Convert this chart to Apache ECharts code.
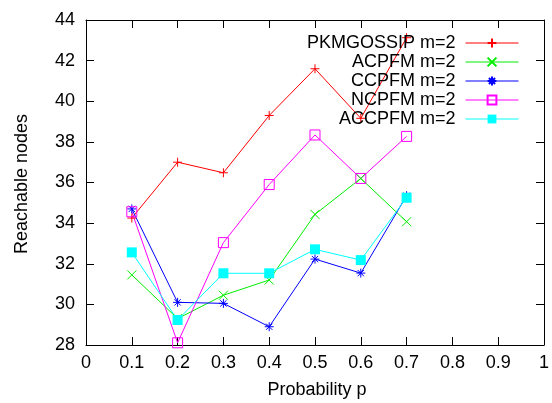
<!DOCTYPE html>
<html>
<head>
<meta charset="utf-8">
<script src="https://cdn.jsdelivr.net/npm/echarts@6/dist/echarts.min.js"></script>
<style>
  html, body { margin: 0; padding: 0; background: #fff; }
  #chart { width: 552px; height: 403px; }
</style>
</head>
<body>
<div id="chart"></div>
<script>
// Reachable nodes versus forwarding probability p, m = 2
const probs = [0.1, 0.2, 0.3, 0.4, 0.5, 0.6, 0.7];
const pkmgossip = [34.25, 37.0, 36.48, 39.3, 41.6, 39.16, 43.13];
const acpfm = [31.45, 29.3, 30.45, 31.2, 34.43, 36.2, 34.07];
const ccpfm = [34.7, 30.1, 30.05, 28.9, 32.23, 31.54, 35.35];
const ncpfm = [34.56, 28.11, 33.04, 35.9, 38.34, 36.2, 38.27];
const accpfm = [32.56, 29.23, 31.53, 31.53, 32.71, 32.18, 35.25];

const seriesNames = ['PKMGOSSIP m=2', 'ACPFM m=2', 'CCPFM m=2', 'NCPFM m=2', 'ACCPFM m=2'];
const xTicks = ['0', '0.1', '0.2', '0.3', '0.4', '0.5', '0.6', '0.7', '0.8', '0.9', '1'];
const yTicks = ['28', '30', '32', '34', '36', '38', '40', '42', '44'];

const FONT = "'Liberation Sans', Arial, sans-serif";

// point-style glyphs
const PLUS = 'path://M5,0L5,10M0,5L10,5';
const CROSS = 'path://M0,0L10,10M10,0L0,10';
const STAR = 'path://M5,0L5,10M0,5L10,5M1.5,1.5L8.5,8.5M8.5,1.5L1.5,8.5';

function pairs(ys) {
  return probs.map((p, i) => [p, ys[i]]);
}

function lineSeries(name, ys, color, symbol, size, filled) {
  return {
    name: name,
    type: 'line',
    data: pairs(ys),
    symbol: symbol,
    symbolSize: size,
    showAllSymbol: true,
    silent: true,
    animation: false,
    lineStyle: { color: color, width: 1 },
    itemStyle: filled
      ? { color: color, borderWidth: 0 }
      : { color: 'rgba(0,0,0,0)', borderColor: color, borderWidth: 1 },
    emphasis: { disabled: true },
    z: 2
  };
}

const chart = echarts.init(document.getElementById('chart'), null, { renderer: 'canvas' });

const baseX = {
  type: 'value', min: 0, max: 1, interval: 0.1,
  axisLine: { show: true, onZero: false, lineStyle: { color: '#000', width: 1 } },
  axisTick: { show: true, inside: true, length: 8, lineStyle: { color: '#000', width: 1 } },
  splitLine: { show: false }
};
const baseY = {
  type: 'value', min: 28, max: 44, interval: 2,
  axisLine: { show: true, onZero: false, lineStyle: { color: '#000', width: 1 } },
  axisTick: { show: true, inside: true, length: 8, lineStyle: { color: '#000', width: 1 } },
  splitLine: { show: false }
};

chart.setOption({
  animation: false,
  backgroundColor: '#fff',
  grid: { left: 86, right: 6, top: 20, bottom: 58, containLabel: false },
  xAxis: [
    Object.assign({}, baseX, {
      position: 'bottom',
      axisLabel: {
        show: true, margin: 9, color: '#000', fontFamily: FONT, fontSize: 18,
        formatter: v => xTicks[Math.round(v * 10)]
      }
    }),
    Object.assign({}, baseX, { position: 'top', axisLabel: { show: false } })
  ],
  yAxis: [
    Object.assign({}, baseY, {
      position: 'left',
      axisLabel: {
        show: true, margin: 11, color: '#000', fontFamily: FONT, fontSize: 18,
        formatter: v => yTicks[Math.round((v - 28) / 2)]
      }
    }),
    Object.assign({}, baseY, { position: 'right', axisLabel: { show: false } })
  ],
  legend: {
    orient: 'vertical',
    align: 'right',
    right: 28,
    top: 29,
    itemWidth: 53,
    itemHeight: 11,
    itemGap: 1,
    selectedMode: false,
    data: seriesNames,
    lineStyle: { width: 1 },
    textStyle: { color: '#000', fontFamily: FONT, fontSize: 18, padding: [0, 5, 0, 0] }
  },
  graphic: [
    {
      type: 'text', x: 317, y: 390,
      style: { text: 'Probability p', fill: '#000', font: '18px ' + FONT, align: 'center', verticalAlign: 'middle' }
    },
    {
      type: 'text', x: 22, y: 184, rotation: Math.PI / 2,
      style: { text: 'Reachable nodes', fill: '#000', font: '18px ' + FONT, align: 'center', verticalAlign: 'middle' }
    }
  ],
  series: [
    lineSeries(seriesNames[0], pkmgossip, '#ff0000', PLUS, 9, false),
    lineSeries(seriesNames[1], acpfm, '#00ee00', CROSS, 9, false),
    lineSeries(seriesNames[2], ccpfm, '#0000ff', STAR, 9, false),
    lineSeries(seriesNames[3], ncpfm, '#ff00ff', 'rect', 10, false),
    lineSeries(seriesNames[4], accpfm, '#00ffff', 'rect', 10, true)
  ]
});
</script>
</body>
</html>
